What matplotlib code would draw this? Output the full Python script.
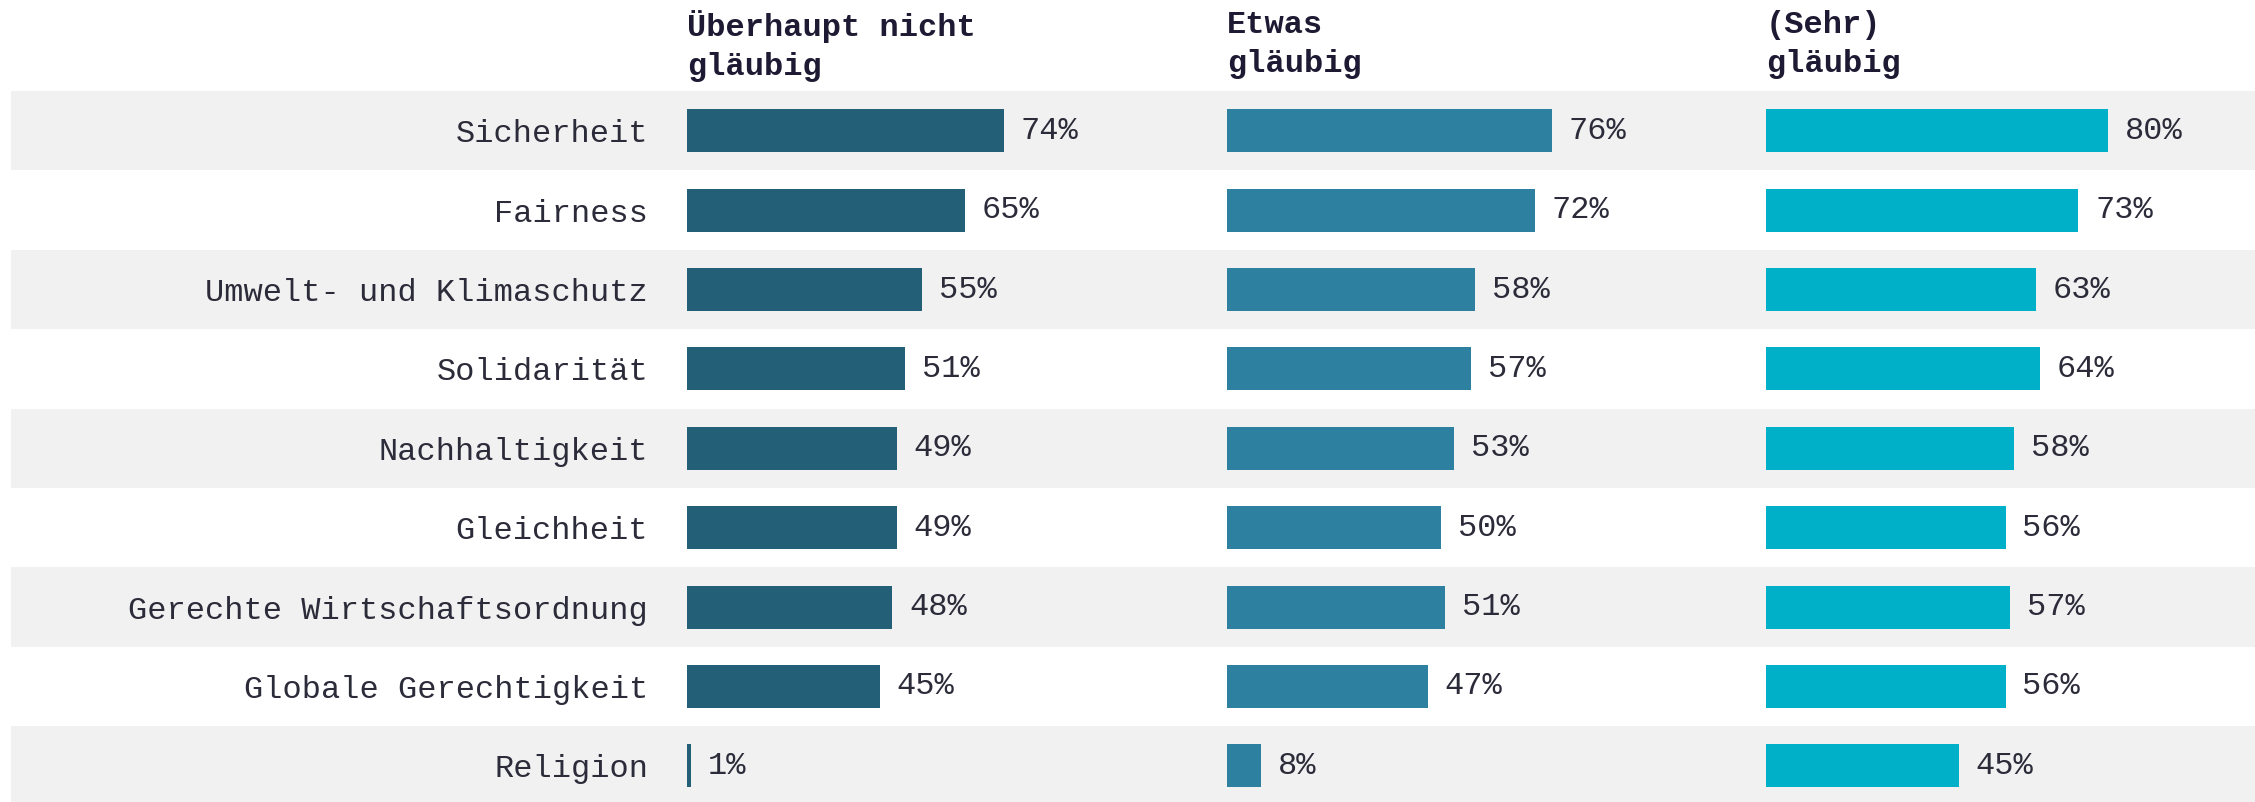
import numpy as np
import matplotlib.pyplot as plt
from matplotlib.transforms import blended_transform_factory

plt.rcParams['font.family'] = ['Liberation Mono', 'DejaVu Sans Mono']

# Werte je Gruppe (Anteil in %)
werte = ['Sicherheit', 'Fairness', 'Umwelt- und Klimaschutz', 'Solidarität',
         'Nachhaltigkeit', 'Gleichheit', 'Gerechte Wirtschaftsordnung',
         'Globale Gerechtigkeit', 'Religion']
nicht_glaeubig = [74, 65, 55, 51, 49, 49, 48, 45, 1]
etwas_glaeubig = [76, 72, 58, 57, 53, 50, 51, 47, 8]
sehr_glaeubig = [80, 73, 63, 64, 58, 56, 57, 56, 45]
gruppen = ['Überhaupt nicht\ngläubig', 'Etwas\ngläubig', '(Sehr)\ngläubig']
farben = ['#245f78', '#2e80a1', '#00afc8']

W, H = 2255, 802
fig = plt.figure(figsize=(W / 100, H / 100), dpi=100)

n = len(werte)
zeile = 79.4           # Zeilenhöhe in Pixel
oben = 91              # Oberkante der ersten Zeile
unten = oben + n * zeile
y_ax = 1 - unten / H
h_ax = n * zeile / H
text_farbe = '#2b2b3a'
fs = 23

# Hintergrundstreifen
bg = fig.add_axes([11 / W, y_ax, 1 - 11 / W, h_ax])
bg.set_ylim(n - 0.5, -0.5)
bg.set_xlim(0, 1)
for i in range(0, n, 2):
    bg.axhspan(i - 0.5, i + 0.5, color='#f1f1f1', lw=0)
bg.axis('off')

starts = [687, 1227, 1766]
px_pro_100 = 428
breite = 540
y = np.arange(n)

for k, (daten, name, farbe, x0) in enumerate(
        zip([nicht_glaeubig, etwas_glaeubig, sehr_glaeubig], gruppen, farben, starts)):
    ax = fig.add_axes([x0 / W, y_ax, breite / W, h_ax])
    ax.patch.set_alpha(0)
    ax.barh(y, daten, height=0.54, color=farbe, edgecolor='none')
    ax.set_xlim(0, breite / px_pro_100 * 100)
    ax.set_ylim(n - 0.5, -0.5)
    for yi, v in zip(y, daten):
        ax.annotate(f'{v}%', (v, yi), xytext=(12, 0), textcoords='offset points',
                    ha='left', va='center', fontsize=fs, color=text_farbe)
    for s in ax.spines.values():
        s.set_visible(False)
    ax.set_xticks([])
    if k == 0:
        ax.set_yticks(y)
        ax.set_yticklabels(werte, fontsize=fs, color=text_farbe)
        ax.tick_params(axis='y', length=0, pad=28)
    else:
        ax.set_yticks([])
    tr = blended_transform_factory(ax.transAxes, fig.transFigure)
    ax.text(0, 1 - 10 / H, name, transform=tr, ha='left', va='top',
            fontsize=fs, fontweight='bold', color='#1e1a33', linespacing=1.4)

fig.savefig('out.png', dpi=100)
